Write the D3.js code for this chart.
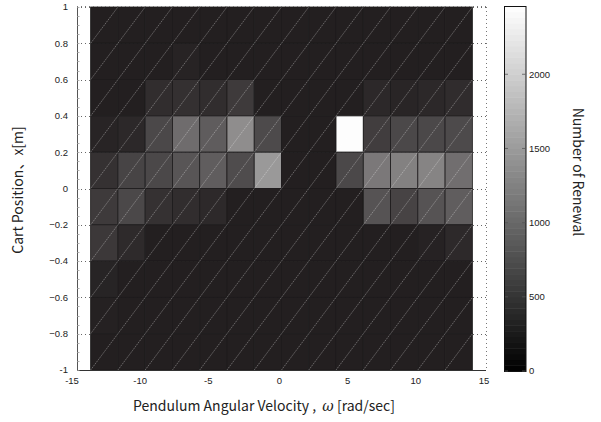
<!DOCTYPE html>
<html>
<head>
<meta charset="utf-8">
<script src="https://cdn.jsdelivr.net/npm/d3@7"></script>
<style>
  body { margin: 0; background: #fff; }
  .tick-label { font-family: "Liberation Sans Narrow", "Arial Narrow", "Liberation Sans", sans-serif; font-size: 9.5px; fill: #222; }
  .axis-title { font-family: "Noto Sans CJK JP", "Noto Sans", sans-serif; font-size: 14px; fill: #222; }
</style>
</head>
<body>
<svg id="chart" width="601" height="422"></svg>
<script>
// Bin centres of the histogram (angular velocity in rad/sec, cart position in m)
const omegaCenters = [-13, -11, -9, -7, -5, -3, -1, 1, 3, 5, 7, 9, 11, 13];
const positionCenters = [0.9, 0.7, 0.5, 0.3, 0.1, -0.1, -0.3, -0.5, -0.7, -0.9];
const binWidth = 2;
const binHeight = 0.2;

// Number of renewals per bin, one row per position bin (top to bottom)
const renewals = [
  [0, 0, 0, 0, 0, 0, 0, 0, 0, 0, 0, 0, 0, 0],
  [0, 0, 0, 40, 0, 0, 0, 0, 0, 0, 0, 0, 0, 0],
  [0, 0, 155, 188, 155, 298, 0, 0, 0, 0, 99, 70, 99, 143],
  [60, 99, 452, 850, 673, 1203, 475, 0, 0, 2440, 330, 452, 452, 475],
  [199, 408, 452, 596, 684, 497, 1335, 0, 0, 452, 982, 1071, 1104, 872],
  [298, 452, 199, 155, 110, 0, 0, 0, 0, 0, 574, 397, 574, 684],
  [276, 120, 0, 0, 0, 0, 0, 0, 0, 0, 0, 0, 30, 110],
  [50, 0, 0, 0, 0, 0, 0, 0, 0, 0, 0, 0, 0, 0],
  [20, 0, 0, 0, 0, 0, 0, 0, 0, 0, 0, 0, 0, 0],
  [0, 0, 0, 0, 0, 0, 0, 0, 0, 0, 0, 0, 0, 0]
];

const xTicks = [-15, -10, -5, 0, 5, 10, 15];
const yTicks = [-1, -0.8, -0.6, -0.4, -0.2, 0, 0.2, 0.4, 0.6, 0.8, 1];
const colorTicks = [0, 500, 1000, 1500, 2000];
const colorMax = 2460;

const svg = d3.select("#chart");

const x = d3.scaleLinear().domain([-15, 15]).range([77, 486]);
const y = d3.scaleLinear().domain([-1, 1]).range([370, 7]);

// gray colormap; the surface tones start from a print-black
const cellColor = d3.scaleLinear().domain([0, colorMax]).range(["#231f20", "#ffffff"]);
const barColor = d3.scaleLinear().domain([0, colorMax]).range(["#000000", "#ffffff"]);

const fmtY = v => v === 0 ? "0" : (Math.abs(v) === 1 ? String(v) : d3.format(".1f")(v));

// dotted grid lines at the y ticks (mostly covered by the surface)
svg.append("g").selectAll("line").data(yTicks).join("line")
  .attr("x1", x(-15)).attr("x2", x(15))
  .attr("y1", d => Math.round(y(d)) + 0.5).attr("y2", d => Math.round(y(d)) + 0.5)
  .attr("stroke", "#666").attr("stroke-width", 1).attr("stroke-dasharray", "1,3");

// cells
const cells = [];
renewals.forEach((row, i) => row.forEach((v, j) => cells.push({ wx: omegaCenters[j], py: positionCenters[i], v })));

svg.append("g").selectAll("rect").data(cells).join("rect")
  .attr("x", d => x(d.wx - binWidth / 2))
  .attr("y", d => y(d.py + binHeight / 2))
  .attr("width", d => x(d.wx + binWidth / 2) - x(d.wx - binWidth / 2))
  .attr("height", d => y(d.py - binHeight / 2) - y(d.py + binHeight / 2))
  .attr("fill", d => cellColor(d.v))
  .attr("stroke", "#1c1a1b").attr("stroke-width", 0.8);

// mesh diagonals across every cell
svg.append("g").selectAll("line").data(cells).join("line")
  .attr("x1", d => x(d.wx - binWidth / 2)).attr("y1", d => y(d.py - binHeight / 2))
  .attr("x2", d => x(d.wx + binWidth / 2)).attr("y2", d => y(d.py + binHeight / 2))
  .attr("stroke", "#ffffff").attr("stroke-opacity", 0.45).attr("stroke-width", 0.7)
  .attr("stroke-dasharray", "1.6,0.8");

// axes box: solid left/bottom, dotted top/right
svg.append("line").attr("x1", x(-15) + 0.5).attr("x2", x(-15) + 0.5).attr("y1", y(1)).attr("y2", y(-1) + 0.5)
  .attr("stroke", "#555").attr("stroke-width", 1);
svg.append("line").attr("x1", x(-15)).attr("x2", x(15)).attr("y1", y(-1) + 0.5).attr("y2", y(-1) + 0.5)
  .attr("stroke", "#333").attr("stroke-width", 1);
svg.append("line").attr("x1", x(-15)).attr("x2", x(15)).attr("y1", y(1) - 0.5).attr("y2", y(1) - 0.5)
  .attr("stroke", "#777").attr("stroke-width", 1).attr("stroke-dasharray", "1,3");
svg.append("line").attr("x1", x(15) + 0.5).attr("x2", x(15) + 0.5).attr("y1", y(1)).attr("y2", y(-1))
  .attr("stroke", "#777").attr("stroke-width", 1).attr("stroke-dasharray", "1,3");

// minor ticks along the vertical spines
const minorY = d3.range(-1, 1.0001, 0.05);
svg.append("g").selectAll("line").data(minorY).join("line")
  .attr("x1", x(-15)).attr("x2", x(-15) + 2.5)
  .attr("y1", d => Math.round(y(d)) + 0.5).attr("y2", d => Math.round(y(d)) + 0.5)
  .attr("stroke", "#999").attr("stroke-width", 0.8);

// tick labels
svg.append("g").selectAll("text").data(yTicks).join("text")
  .attr("class", "tick-label")
  .attr("x", 68).attr("y", d => y(d)).attr("dy", "0.35em")
  .attr("text-anchor", "end")
  .text(fmtY);

svg.append("g").selectAll("text").data(xTicks).join("text")
  .attr("class", "tick-label")
  .attr("x", d => x(d) - (d < 0 ? 5 : 2)).attr("y", 384)
  .attr("text-anchor", "middle")
  .text(d => String(d));

// axis titles
const xTitle = svg.append("text").attr("class", "axis-title")
  .attr("x", 264).attr("y", 411).attr("text-anchor", "middle")
  .style("white-space", "pre");
xTitle.append("tspan").text("Pendulum Angular Velocity ,  ");
xTitle.append("tspan").attr("font-style", "italic").attr("font-family", "DejaVu Serif, serif").text("ω");
xTitle.append("tspan").text(" [rad/sec]");

svg.append("text").attr("class", "axis-title")
  .attr("transform", "translate(23,190) rotate(-90)")
  .attr("text-anchor", "middle")
  .text("Cart Position、x[m]");

// colorbar
const cb = d3.scaleLinear().domain([0, colorMax]).range([371, 6]);
const steps = d3.range(0, 64);
const stepSize = colorMax / 64;
svg.append("g").selectAll("rect").data(steps).join("rect")
  .attr("x", 504).attr("width", 22)
  .attr("y", d => cb((d + 1) * stepSize))
  .attr("height", d => cb(d * stepSize) - cb((d + 1) * stepSize) + 0.5)
  .attr("fill", d => barColor((d + 0.5) * stepSize));
svg.append("rect").attr("x", 504.5).attr("y", 6.5).attr("width", 21.5).attr("height", 365)
  .attr("fill", "none").attr("stroke", "#111").attr("stroke-width", 1);

const cbTickG = svg.append("g");
cbTickG.selectAll("line.l").data(colorTicks).join("line").attr("class", "l")
  .attr("x1", 505).attr("x2", 508).attr("y1", d => cb(d)).attr("y2", d => cb(d))
  .attr("stroke", "#555").attr("stroke-width", 0.8);
cbTickG.selectAll("line.r").data(colorTicks).join("line").attr("class", "r")
  .attr("x1", 522).attr("x2", 525.5).attr("y1", d => cb(d)).attr("y2", d => cb(d))
  .attr("stroke", "#555").attr("stroke-width", 0.8);
svg.append("g").selectAll("text").data(colorTicks).join("text")
  .attr("class", "tick-label")
  .attr("x", 529).attr("y", d => cb(d)).attr("dy", "0.35em")
  .text(d => String(d));

svg.append("text").attr("class", "axis-title")
  .attr("transform", "translate(573,172) rotate(90)")
  .attr("text-anchor", "middle")
  .text("Number of Renewal");
</script>
</body>
</html>
